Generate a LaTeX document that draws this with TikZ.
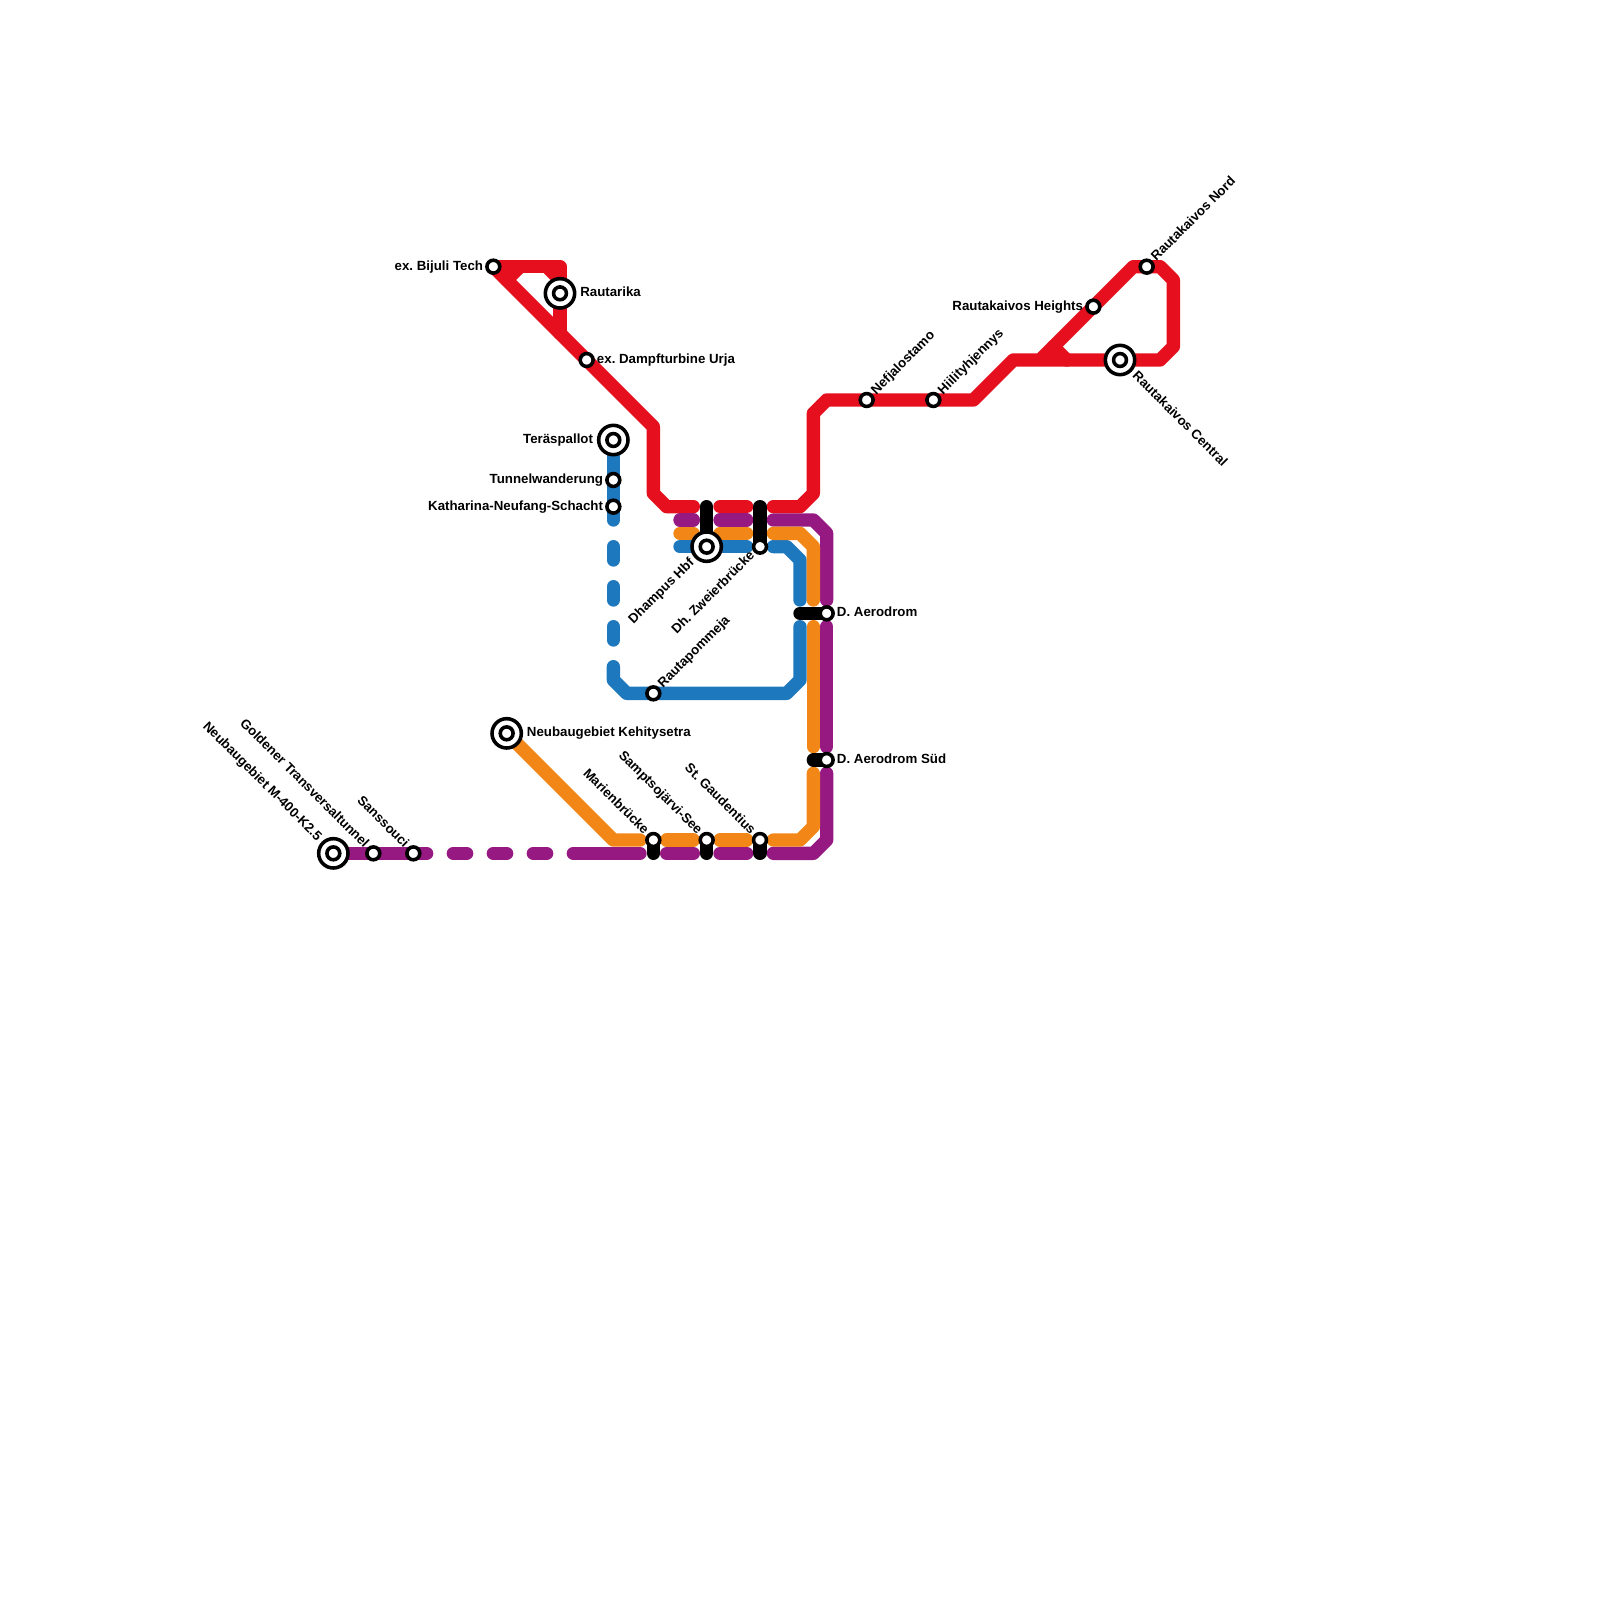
\documentclass[tikz,border=0pt]{standalone}
\usepackage{fontspec}
\setmainfont{Liberation Sans}
\frenchspacing
\definecolor{metrored}{HTML}{E60F1E}
\definecolor{metroblue}{HTML}{1E78BE}
\definecolor{metrolila}{HTML}{961982}
\definecolor{metroorange}{HTML}{F28717}
\tikzset{
    route/.style={line width=0.3cm, line cap=round, line join=round},
    stop/.style={circle, draw=black, fill=white, line width=0.08cm, minimum size=0.29cm, inner sep=0pt},
    bigstop/.style={circle, draw=black, fill=white, line width=0.08cm, minimum size=0.66cm, inner sep=0pt},
    name tag/.style={font=\bfseries\fontsize{8.5}{10}\selectfont, inner sep=0pt, text height=6.1pt, text depth=1.8pt}
}
\begin{document}
\begin{tikzpicture}[x=0.3cm, y=-0.3cm]
    \useasboundingbox (0,0) rectangle (120,120);
    \coordinate (bijuli) at (37,20);
    \coordinate (rautarika) at (42,22);
    \coordinate (dampf) at (44,27);
    \coordinate (teras) at (46,33);
    \coordinate (tunnel) at (46,36);
    \coordinate (katharina) at (46,38);
    \coordinate (dhampus) at (53,41);
    \coordinate (zweier) at (57,41);
    \coordinate (aero) at (62,46);
    \coordinate (aerosud) at (62,57);
    \coordinate (pommeja) at (49,52);
    \coordinate (kehit) at (38,55);
    \coordinate (marien) at (49,63);
    \coordinate (sampts) at (53,63);
    \coordinate (gauden) at (57,63);
    \coordinate (neuM) at (25,64);
    \coordinate (golden) at (28,64);
    \coordinate (sans) at (31,64);
    \coordinate (nefja) at (65,30);
    \coordinate (hiili) at (70,30);
    \coordinate (heights) at (82,23);
    \coordinate (nord) at (86,20);
    \coordinate (central) at (84,27);

    \draw[route, metrored] (bijuli) -- (49,32) -- (49,37) -- (50,38) -- (52,38);
    \draw[route, metrored] (bijuli) -- (42,20) -- (rautarika) -- (42,25);
    \draw[route, metrored] (41,20) -- (42,21);
    \draw[route, metrored] (38,21) -- (39,20);
    \draw[route, metrored] (54,38) -- (56,38);
    \draw[route, metrored] (58,38) -- (60,38) -- (61,37) -- (61,31) -- (62,30) -- (nefja) -- (hiili) -- (73,30) -- (76,27) -- (central) -- (87,27) -- (88,26) -- (88,21) -- (87,20) -- (nord) -- (85,20) -- (heights) -- (78,27);
    \draw[route, metrored] (79,26) -- (80,27);

    \draw[route, metroblue] (teras) -- (tunnel) -- (katharina) -- (46,39);
    \draw[route, metroblue] (46,41) -- (46,42);
    \draw[route, metroblue] (46,44) -- (46,45);
    \draw[route, metroblue] (46,47) -- (46,48);
    \draw[route, metroblue] (46,50) -- (46,51) -- (47,52) -- (pommeja) -- (59,52) -- (60,51) -- (60,47);
    \draw[route, metroblue] (60,45) -- (60,42) -- (59,41) -- (58,41);
    \draw[route, metroblue] (51,41) -- (56,41);

    \draw[route, metrolila] (neuM) -- (32,64);
    \draw[route, metrolila] (34,64) -- (35,64);
    \draw[route, metrolila] (37,64) -- (38,64);
    \draw[route, metrolila] (40,64) -- (41,64);
    \draw[route, metrolila] (43,64) -- (48,64);
    \draw[route, metrolila] (50,64) -- (52,64);
    \draw[route, metrolila] (54,64) -- (56,64);
    \draw[route, metrolila] (58,64) -- (61,64) -- (62,63) -- (62,58);
    \draw[route, metrolila] (62,56) -- (62,47);
    \draw[route, metrolila] (62,45) -- (62,40) -- (61,39) -- (58,39);
    \draw[route, metrolila] (54,39) -- (56,39);
    \draw[route, metrolila] (51,39) -- (52,39);

    \draw[route, metroorange] (kehit) -- (46,63) -- (48,63);
    \draw[route, metroorange] (50,63) -- (52,63);
    \draw[route, metroorange] (54,63) -- (56,63);
    \draw[route, metroorange] (58,63) -- (60,63) -- (61,62) -- (61,58);
    \draw[route, metroorange] (61,56) -- (61,47);
    \draw[route, metroorange] (61,45) -- (61,41) -- (60,40) -- (58,40);
    \draw[route, metroorange] (54,40) -- (56,40);
    \draw[route, metroorange] (51,40) -- (52,40);

    \draw[route, black] (53,38) -- (dhampus);
    \draw[route, black] (57,38) -- (zweier);
    \draw[route, black] (60,46) -- (aero);
    \draw[route, black] (61,57) -- (aerosud);
    \draw[route, black] (marien) -- (49,64);
    \draw[route, black] (sampts) -- (53,64);
    \draw[route, black] (gauden) -- (57,64);

    \node[bigstop] (ring-rautarika) at (rautarika) {};
    \node[bigstop] (ring-teras) at (teras) {};
    \node[bigstop] (ring-dhampus) at (dhampus) {};
    \node[bigstop] (ring-kehit) at (kehit) {};
    \node[bigstop] (ring-neuM) at (neuM) {};
    \node[bigstop] (ring-central) at (central) {};

    \node[stop] (s-bijuli) at (bijuli) {};
    \node[stop] (s-rautarika) at (rautarika) {};
    \node[stop] (s-dampf) at (dampf) {};
    \node[stop] (s-teras) at (teras) {};
    \node[stop] (s-tunnel) at (tunnel) {};
    \node[stop] (s-katharina) at (katharina) {};
    \node[stop] (s-dhampus) at (dhampus) {};
    \node[stop] (s-zweier) at (zweier) {};
    \node[stop] (s-aero) at (aero) {};
    \node[stop] (s-aerosud) at (aerosud) {};
    \node[stop] (s-pommeja) at (pommeja) {};
    \node[stop] (s-kehit) at (kehit) {};
    \node[stop] (s-marien) at (marien) {};
    \node[stop] (s-sampts) at (sampts) {};
    \node[stop] (s-gauden) at (gauden) {};
    \node[stop] (s-neuM) at (neuM) {};
    \node[stop] (s-golden) at (golden) {};
    \node[stop] (s-sans) at (sans) {};
    \node[stop] (s-nefja) at (nefja) {};
    \node[stop] (s-hiili) at (hiili) {};
    \node[stop] (s-heights) at (heights) {};
    \node[stop] (s-nord) at (nord) {};
    \node[stop] (s-central) at (central) {};

    \node[name tag, anchor=east] (t-bijuli) at (36.25,20) {ex. Bijuli Tech};
    \node[name tag, anchor=west] (t-rautarika) at (43.5,22) {Rautarika};
    \node[name tag, anchor=west] (t-dampf) at (44.75,27) {ex. Dampfturbine Urja};
    \node[name tag, anchor=east] (t-teras) at (44.5,33) {Teräspallot};
    \node[name tag, anchor=east] (t-tunnel) at (45.25,36) {Tunnelwanderung};
    \node[name tag, anchor=east] (t-katharina) at (45.25,38) {Katharina-Neufang-Schacht};
    \node[name tag, anchor=east, rotate=45] (t-dhampus) at (51.94,42.06) {Dhampus Hbf};
    \node[name tag, anchor=east, rotate=45] (t-zweier) at (56.47,41.53) {Dh. Zweierbrücke};
    \node[name tag, anchor=west] (t-aero) at (62.75,46) {D. Aerodrom};
    \node[name tag, anchor=west] (t-aerosud) at (62.75,57) {D. Aerodrom Süd};
    \node[name tag, anchor=west, rotate=45] (t-pommeja) at (49.53,51.47) {Rautapommeja};
    \node[name tag, anchor=west] (t-kehit) at (39.5,55) {Neubaugebiet Kehitysetra};
    \node[name tag, anchor=east, rotate=-45] (t-marien) at (48.47,62.47) {Marienbrücke};
    \node[name tag, anchor=east, rotate=-45] (t-sampts) at (52.47,62.47) {Samptsojärvi-See};
    \node[name tag, anchor=east, rotate=-45] (t-gauden) at (56.47,62.47) {St. Gaudentius};
    \node[name tag, anchor=east, rotate=-45] (t-neuM) at (23.94,62.94) {Neubaugebiet M-400-K2.5};
    \node[name tag, anchor=east, rotate=-45] (t-golden) at (27.47,63.47) {Goldener Transversaltunnel};
    \node[name tag, anchor=east, rotate=-45] (t-sans) at (30.47,63.47) {Sanssouci};
    \node[name tag, anchor=west, rotate=45] (t-nefja) at (65.53,29.47) {Nefjalostamo};
    \node[name tag, anchor=west, rotate=45] (t-hiili) at (70.53,29.47) {Hiilityhjennys};
    \node[name tag, anchor=east] (t-heights) at (81.25,23) {Rautakaivos Heights};
    \node[name tag, anchor=west, rotate=45] (t-nord) at (86.53,19.47) {Rautakaivos Nord};
    \node[name tag, anchor=west, rotate=-45] (t-central) at (85.06,28.06) {Rautakaivos Central};
\end{tikzpicture}
\end{document}
